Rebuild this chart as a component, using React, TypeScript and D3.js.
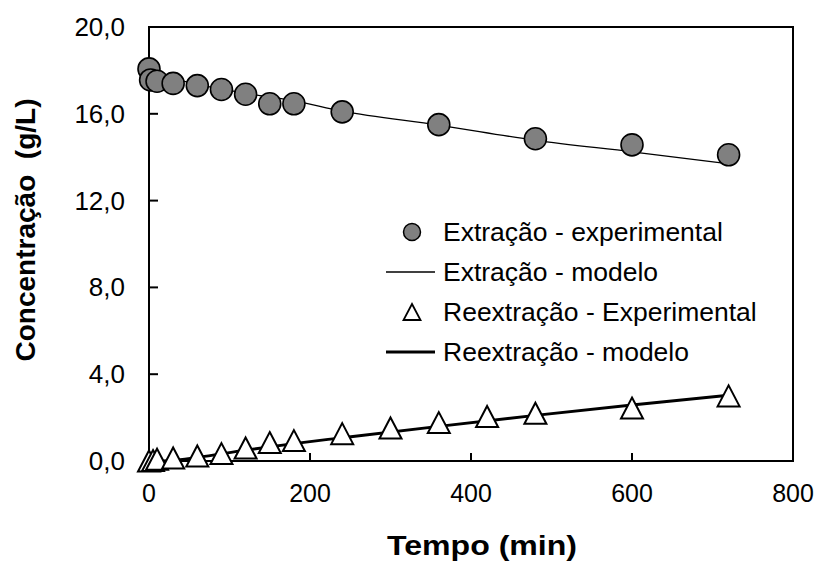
import React from "react";
import * as d3 from "d3";

const extExpT = [0, 2, 10, 30, 60, 90, 120, 150, 180, 240, 360, 480, 600, 720];
const extExpV = [18.07, 17.56, 17.5, 17.4, 17.3, 17.12, 16.9, 16.46, 16.46, 16.09, 15.5, 14.85, 14.57, 14.11];

const extModT = [0, 30, 60, 120, 180, 240, 360, 480, 600, 720];
const extModV = [17.95, 17.62, 17.36, 16.95, 16.6, 16.12, 15.48, 14.78, 14.25, 13.7];

const reExpT = [0, 5, 10, 30, 60, 90, 120, 150, 180, 240, 300, 360, 420, 480, 600, 720];
const reExpV = [0, 0.02, 0.08, 0.14, 0.23, 0.34, 0.6, 0.85, 0.94, 1.26, 1.52, 1.77, 2.05, 2.2, 2.44, 3.0];

const reModT = [0, 30, 60, 120, 180, 240, 360, 480, 600, 720];
const reModV = [0, 0.03, 0.17, 0.5, 0.8, 1.07, 1.6, 2.1, 2.58, 3.03];

const xTicks = [0, 200, 400, 600, 800];
const yTicks = [0, 4, 8, 12, 16, 20];

const legendLabels = [
  "Extração - experimental",
  "Extração - modelo",
  "Reextração - Experimental",
  "Reextração - modelo",
];

const W = 818;
const H = 562;
const L = 149, R = 793, T = 27, B = 461;
const FONT = "Liberation Sans, Arial, sans-serif";

export default function App() {
  const x = d3.scaleLinear().domain([0, 800]).range([L, R]);
  const y = d3.scaleLinear().domain([0, 20]).range([B, T]);
  const line = d3
    .line<[number, number]>()
    .x((d) => x(d[0]))
    .y((d) => y(d[1]))
    .curve(d3.curveMonotoneX);
  const extMod = extModT.map((t, i) => [t, extModV[i]] as [number, number]);
  const reMod = reModT.map((t, i) => [t, reModV[i]] as [number, number]);
  const tri = (cx: number, cy: number, w: number, h: number) =>
    `M${cx},${cy - h / 2}L${cx + w / 2},${cy + h / 2}L${cx - w / 2},${cy + h / 2}Z`;
  const fmt = (v: number) => v.toFixed(1).replace(".", ",");

  const legY = [232, 272, 312, 352];
  const legMX = 412;

  return (
    <svg width={W} height={H} style={{ position: "absolute", left: 0, top: 0 }} fontFamily={FONT}>
      <rect x={0} y={0} width={W} height={H} fill="#fff" />
      <path d={line(extMod) || ""} fill="none" stroke="#000" strokeWidth={1.3} />
      <path d={line(reMod) || ""} fill="none" stroke="#000" strokeWidth={2.8} />
      <rect x={L} y={T} width={R - L} height={B - T} fill="none" stroke="#000" strokeWidth={2} />
      {yTicks.map((v) => (
        <g key={"y" + v}>
          <line x1={L} x2={L + 9} y1={y(v)} y2={y(v)} stroke="#000" strokeWidth={2} />
          <text x={125} y={y(v)} textAnchor="end" dominantBaseline="central" fontSize={26} fill="#000">
            {fmt(v)}
          </text>
        </g>
      ))}
      {xTicks.map((v) => (
        <g key={"x" + v}>
          <line x1={x(v)} x2={x(v)} y1={B} y2={B - 8} stroke="#000" strokeWidth={2} />
          <text x={x(v)} y={502} textAnchor="middle" fontSize={25} fill="#000">
            {v}
          </text>
        </g>
      ))}
      {extExpT.map((t, i) => (
        <circle key={"c" + i} cx={x(t)} cy={y(extExpV[i])} r={11} fill="#808080" stroke="#000" strokeWidth={1.6} />
      ))}
      {reExpT.map((t, i) => (
        <path key={"t" + i} d={tri(x(t), y(reExpV[i]), 22, 21)} fill="#fff" stroke="#000" strokeWidth={2} />
      ))}
      <circle cx={legMX} cy={legY[0]} r={8.5} fill="#808080" stroke="#000" strokeWidth={1.5} />
      <line x1={386} x2={435} y1={legY[1]} y2={legY[1]} stroke="#000" strokeWidth={1.3} />
      <path d={tri(legMX, legY[2], 17, 16)} fill="#fff" stroke="#000" strokeWidth={1.8} />
      <line x1={386} x2={435} y1={legY[3]} y2={legY[3]} stroke="#000" strokeWidth={2.8} />
      {legendLabels.map((s, i) => (
        <text key={s} x={443} y={legY[i]} dominantBaseline="central" fontSize={26.5} fill="#000">
          {s}
        </text>
      ))}
      <text
        x={482}
        y={555}
        textAnchor="middle"
        fontSize={28}
        fontWeight="bold"
        fill="#000"
        textLength={190}
        lengthAdjust="spacingAndGlyphs"
      >
        Tempo (min)
      </text>
      <text
        transform={`translate(35,230) rotate(-90)`}
        textAnchor="middle"
        fontSize={28}
        fontWeight="bold"
        fill="#000"
        style={{ whiteSpace: "pre" }}
      >
        {"Concentração  (g/L)"}
      </text>
    </svg>
  );
}
